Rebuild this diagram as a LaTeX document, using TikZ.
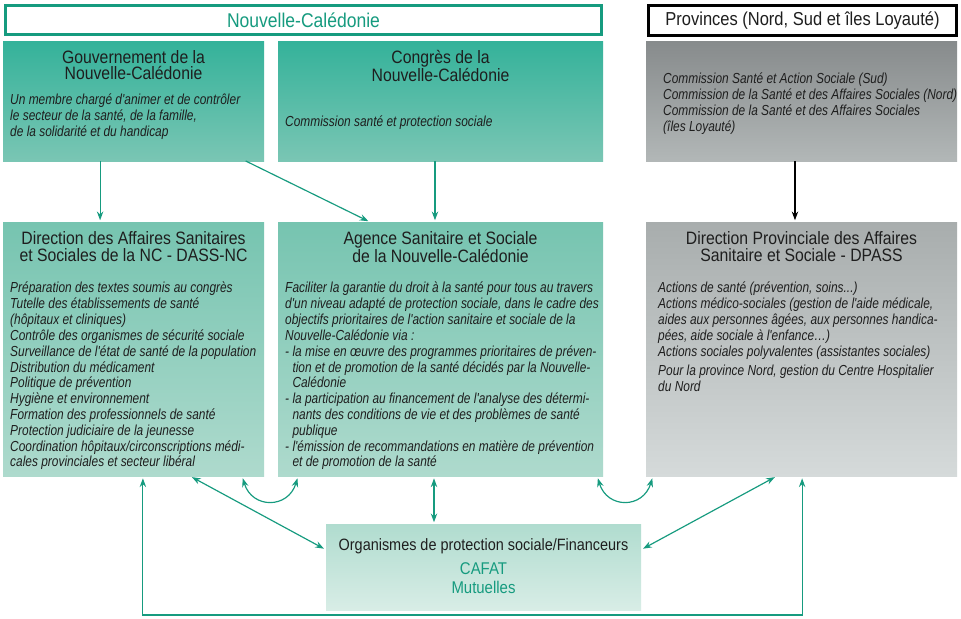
\documentclass[tikz,border=0pt]{standalone}
\usepackage{fontspec}
\setmainfont[FakeStretch=0.88]{Liberation Sans}
\newfontfamily\corpsfont[FakeStretch=0.82]{Liberation Sans}
\usetikzlibrary{positioning,calc,arrows.meta}

\definecolor{vertTrait}{RGB}{22,155,127}
\definecolor{vertHautA}{RGB}{52,178,154}
\definecolor{vertHautB}{RGB}{122,198,180}
\definecolor{vertBasA}{RGB}{118,196,176}
\definecolor{vertBasB}{RGB}{174,218,205}
\definecolor{vertOrgA}{RGB}{176,220,207}
\definecolor{vertOrgB}{RGB}{216,237,230}
\definecolor{grisHautA}{RGB}{135,139,140}
\definecolor{grisHautB}{RGB}{178,183,183}
\definecolor{grisBasA}{RGB}{168,173,173}
\definecolor{grisBasB}{RGB}{213,218,218}
\definecolor{texteFonce}{RGB}{30,30,30}

\tikzset{
  pointe/.tip={Stealth[length=7.5pt,width=5.5pt,inset=2.5pt]},
  boite/.style={rectangle, inner sep=0pt, outer sep=0pt, anchor=north west},
  vertHaut/.style={boite, top color=vertHautA, bottom color=vertHautB},
  vertBas/.style={boite, top color=vertBasA, bottom color=vertBasB},
  vertOrg/.style={boite, top color=vertOrgA, bottom color=vertOrgB},
  grisHaut/.style={boite, top color=grisHautA, bottom color=grisHautB},
  grisBas/.style={boite, top color=grisBasA, bottom color=grisBasB},
  entete/.style={boite, draw, line width=2.5pt, fill=white},
  titre/.style={font=\fontsize{15.3}{14.2}\selectfont, align=center, text=texteFonce, inner sep=0pt},
  corps/.style={font=\corpsfont\itshape\fontsize{12.4}{13.5}\selectfont, align=left, text=texteFonce, inner sep=0pt, anchor=north west},
  lien/.style={draw=vertTrait, line width=1pt}
}

\begin{document}
\begin{tikzpicture}[x=0.3mm, y=-0.3mm]
  \useasboundingbox[fill=white] (0,0) rectangle (961,618);

  % headers
  \node[entete, draw=vertTrait, minimum width=596*0.3mm, minimum height=29*0.3mm] (nc) at (5.5,5.5) {};
  \node[text=vertTrait, font=\fontsize{17}{17}\selectfont, inner sep=0pt] (ncT) at (nc.center) {Nouvelle-Calédonie};
  \node[entete, draw=black, minimum width=308*0.3mm, minimum height=30*0.3mm] (prov) at (648.5,5.5) {};
  \node[text=texteFonce, font=\fontsize{16}{16}\selectfont, inner sep=0pt] (provT) at (prov.center) {Provinces (Nord, Sud et îles Loyauté)};

  % first row
  \node[vertHaut, minimum width=261*0.3mm, minimum height=120*0.3mm] (gouv) at (3,41) {};
  \node[vertHaut, minimum width=325*0.3mm, minimum height=120*0.3mm] (congres) at (278,41) {};
  \node[grisHaut, minimum width=311*0.3mm, minimum height=120*0.3mm] (commProv) at (646,41) {};

  \node[titre, below=2.7mm of gouv.north] (gouvT) {Gouvernement de la\\Nouvelle-Calédonie};
  \node[corps] (gouvC) at ($(gouv.north west)+(7,53)$) {Un membre chargé d'animer et de contrôler\\le secteur de la santé, de la famille,\\de la solidarité et du handicap};
  \node[titre, below=2.7mm of congres.north] (congresT) {Congrès de la\\Nouvelle-Calédonie};
  \node[corps] (congresC) at ($(congres.north west)+(7,75)$) {Commission santé et protection sociale};
  \node[corps] (commProvC) at ($(commProv.north west)+(17,32)$) {Commission Santé et Action Sociale (Sud)\\Commission de la Santé et des Affaires Sociales (Nord)\\Commission de la Santé et des Affaires Sociales\\(îles Loyauté)};

  % second row
  \node[vertBas, minimum width=261*0.3mm, minimum height=254*0.3mm] (dass) at (3,222) {};
  \node[vertBas, minimum width=325*0.3mm, minimum height=254*0.3mm] (agence) at (278,222) {};
  \node[grisBas, minimum width=311*0.3mm, minimum height=254*0.3mm] (dpass) at (646,222) {};

  \node[titre, below=2.9mm of dass.north] (dassT) {Direction des Affaires Sanitaires\\et Sociales de la NC - DASS-NC};
  \node[corps] (dassC) at ($(dass.north west)+(7,60)$) {Préparation des textes soumis au congrès\\Tutelle des établissements de santé\\(hôpitaux et cliniques)\\Contrôle des organismes de sécurité sociale\\Surveillance de l'état de santé de la population\\Distribution du médicament\\Politique de prévention\\Hygiène et environnement\\Formation des professionnels de santé\\Protection judiciaire de la jeunesse\\Coordination hôpitaux/circonscriptions médi-\\cales provinciales et secteur libéral};

  \node[titre, below=2.9mm of agence.north] (agenceT) {Agence Sanitaire et Sociale\\de la Nouvelle-Calédonie};
  \node[corps] (agenceC) at ($(agence.north west)+(7,60)$) {Faciliter la garantie du droit à la santé pour tous au travers\\d'un niveau adapté de protection sociale, dans le cadre des\\objectifs prioritaires de l'action sanitaire et sociale de la\\Nouvelle-Calédonie via :\\- la mise en œuvre des programmes prioritaires de préven-\\\hphantom{- }tion et de promotion de la santé décidés par la Nouvelle-\\\hphantom{- }Calédonie\\- la participation au financement de l'analyse des détermi-\\\hphantom{- }nants des conditions de vie et des problèmes de santé\\\hphantom{- }publique\\- l'émission de recommandations en matière de prévention\\\hphantom{- }et de promotion de la santé};

  \node[titre, below=2.9mm of dpass.north] (dpassT) {Direction Provinciale des Affaires\\Sanitaire et Sociale - DPASS};
  \node[corps] (dpassC) at ($(dpass.north west)+(12,60)$) {Actions de santé (prévention, soins...)\\Actions médico-sociales (gestion de l'aide médicale,\\aides aux personnes âgées, aux personnes handica-\\pées, aide sociale à l'enfance…)\\Actions sociales polyvalentes (assistantes sociales)\\[3pt]Pour la province Nord, gestion du Centre Hospitalier\\du Nord};

  % funders
  \node[vertOrg, minimum width=315*0.3mm, minimum height=86*0.3mm] (org) at (326,524) {};
  \node[titre, font=\fontsize{14}{14}\selectfont, below=4.3mm of org.north] (orgT) {Organismes de protection sociale/Financeurs};
  \node[titre, text=vertTrait, font=\fontsize{14.5}{16.5}\selectfont, below=2.4mm of orgT] (orgL) {CAFAT\\Mutuelles};

  % arrows from the first row
  \coordinate (g1) at ($(gouv.south west)!.372!(gouv.south east)$);
  \coordinate (g2) at ($(gouv.south west)!.93!(gouv.south east)$);
  \coordinate (c1) at ($(congres.south west)!.483!(congres.south east)$);
  \coordinate (p1) at ($(commProv.south west)!.479!(commProv.south east)$);
  \draw[lien, -pointe, shorten >=1.5pt] (g1) -- (g1 |- dass.north);
  \draw[lien, -pointe, shorten >=1.5pt] (g2) -- ($(agence.north west)!.283!(agence.north east)$);
  \draw[lien, -pointe, shorten >=1.5pt] (c1) -- (c1 |- agence.north);
  \draw[line width=1pt, -pointe, shorten >=1.5pt] (p1) -- (p1 |- dpass.north);

  % links with the funders
  \coordinate (d1) at ($(dass.south west)!.536!(dass.south east)$);
  \coordinate (d2) at ($(dass.south west)!.716!(dass.south east)$);
  \coordinate (d3) at ($(dass.south west)!.916!(dass.south east)$);
  \coordinate (a1) at ($(agence.south west)!.062!(agence.south east)$);
  \coordinate (a2) at ($(agence.south west)!.48!(agence.south east)$);
  \coordinate (a3) at ($(agence.south west)!.982!(agence.south east)$);
  \coordinate (v1) at ($(dpass.south west)!.0225!(dpass.south east)$);
  \coordinate (v2) at ($(dpass.south west)!.421!(dpass.south east)$);
  \coordinate (v3) at ($(dpass.south west)!.502!(dpass.south east)$);
  \draw[lien, pointe-pointe, shorten <=2pt, shorten >=2pt] (d2) -- ($(org.north west)!.3!(org.south west)$);
  \draw[lien, pointe-pointe, shorten <=2pt, shorten >=2pt] (v2) -- ($(org.north east)!.3!(org.south east)$);
  \draw[lien, pointe-pointe, shorten <=2pt, shorten >=1.5pt] (a2) -- (a2 |- org.north);
  \draw[lien, pointe-pointe, shorten <=2pt, shorten >=2pt] (d3) .. controls +(10,33) and +(-10,33) .. (a1);
  \draw[lien, pointe-pointe, shorten <=2pt, shorten >=2pt] (a3) .. controls +(10,33) and +(-10,33) .. (v1);
  \draw[lien, line width=0.9pt, pointe-pointe, shorten <=2pt, shorten >=2pt] (d1) -- ++(0,139) -| (v3);
\end{tikzpicture}
\end{document}
